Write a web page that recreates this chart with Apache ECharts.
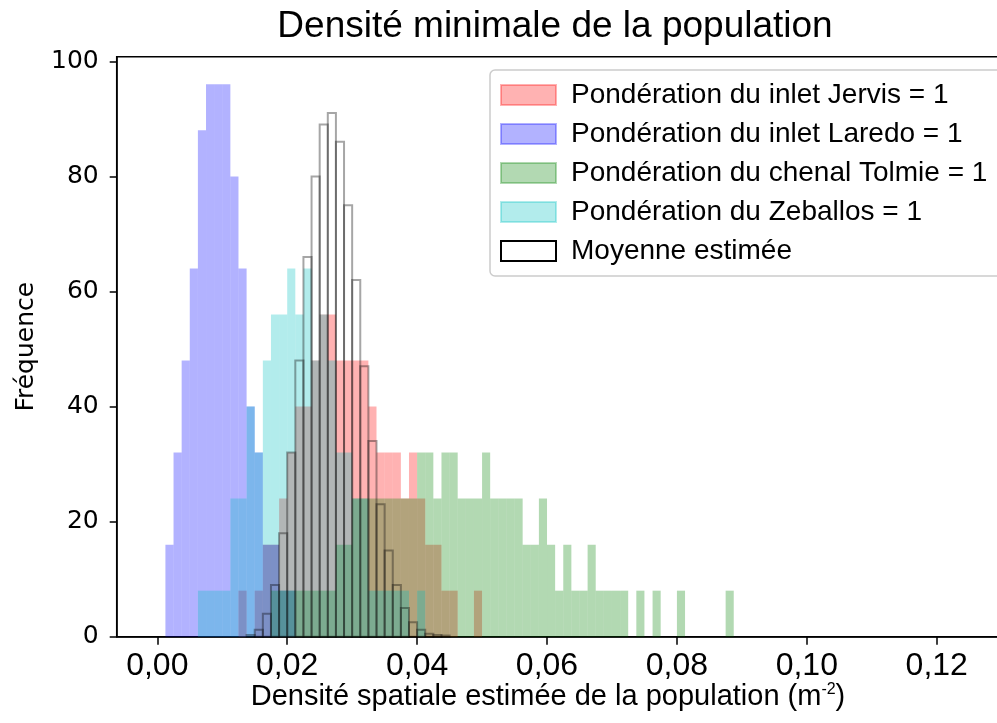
<!DOCTYPE html>
<html>
<head>
<meta charset="utf-8">
<script src="https://cdn.jsdelivr.net/npm/echarts@6/dist/echarts.min.js"></script>
<style>
  html, body { margin: 0; padding: 0; background: #fff; }
  #chart { width: 997px; height: 723px; }
</style>
</head>
<body>
<div id="chart"></div>
<script>
// Histogram bins shared by every series: edges every 0.00125 starting at 0
const binWidth = 0.00125;

// Counts per bin (index = bin number)
const jervis = [0,0,0,0,0,0,0,0,0,0, 8,0,8,16,16,24,32,40,40,48, 56,56,48,48,48,48,40,32,32,32, 24,32,24,16,16,8,8,0,0,8];
const laredo = [0,16,32,48,64,88,96,96,96,80, 64,40,32,16,16,8,8];
const tolmie = [0,0,0,0,0,0,0,0,0,0, 0,0,0,0,8,8,8,8,8,8, 8,8,16,16,24,24,24,24,24,24,
                24,24,32,32,24,32,32,24,24,24, 32,24,24,24,24,16,16,24,16,8, 16,8,8,16,8,8,8,8,0,8,
                0,8,0,0,8,0,0,0,0,0, 8];
const zeballos = [0,0,0,0,0,8,8,8,8,24, 24,40,32,48,56,56,64,56,64,48, 56,48,32,32,24,24,8,8,8,8, 8,0,8];
const moyenne = [0,0,0,0,0,0,0,0,0,0, 0,0.3,1.2,4,9,18,32,48,66,80, 89,91,86,75,62,47,34,23,15,9, 5,2.5,1.2,0.5,0.3,0.2];

const xTicks = [0, 0.02, 0.04, 0.06, 0.08, 0.10, 0.12];
const yTicks = [0, 20, 40, 60, 80, 100];

const seriesNames = [
  'Pondération du inlet Jervis = 1',
  'Pondération du inlet Laredo = 1',
  'Pondération du chenal Tolmie = 1',
  'Pondération du Zeballos = 1',
  'Moyenne estimée'
];

const SANS = '"Liberation Sans", sans-serif';
const DEJAVU = '"DejaVu Sans", sans-serif';

function histSeries(name, counts, fill, outline) {
  const data = [];
  counts.forEach((c, i) => {
    if (c > 0) data.push([i * binWidth, (i + 1) * binWidth, c]);
  });
  return {
    type: 'custom',
    name: name,
    data: data,
    silent: true,
    animation: false,
    encode: { x: [0, 1], y: 2 },
    renderItem: function (params, api) {
      const top = api.coord([api.value(0), api.value(2)]);
      const bottom = api.coord([api.value(1), 0]);
      return {
        type: 'rect',
        shape: { x: top[0], y: top[1], width: bottom[0] - top[0], height: bottom[1] - top[1] },
        style: outline
          ? { fill: 'none', stroke: 'rgba(0,0,0,0.35)', lineWidth: 2 }
          : { fill: fill }
      };
    }
  };
}

const colors = {
  red: 'rgba(255,0,0,0.3)',
  blue: 'rgba(0,0,255,0.3)',
  green: 'rgba(0,128,0,0.3)',
  cyan: 'rgba(0,191,191,0.3)'
};

const chart = echarts.init(document.getElementById('chart'), null, { renderer: 'canvas' });

chart.setOption({
  animation: false,
  backgroundColor: '#fff',
  grid: {
    left: 116.7, top: 56.7, right: -12.8, bottom: 86.3,
    show: true, borderColor: '#000', borderWidth: 1.5,
    containLabel: false, outerBoundsMode: 'none'
  },
  xAxis: {
    type: 'value',
    min: -0.00625, max: 0.13125,
    splitLine: { show: false },
    axisLine: { onZero: false, lineStyle: { color: '#000', width: 1.5 } },
    axisTick: { customValues: xTicks, length: 8, lineStyle: { color: '#000', width: 1.5 } },
    axisLabel: {
      customValues: xTicks,
      formatter: v => v.toFixed(2).replace('.', ','),
      fontFamily: SANS, fontSize: 32, color: '#000', margin: 13
    }
  },
  yAxis: {
    type: 'value',
    min: 0, max: 100.8,
    splitLine: { show: false },
    axisLine: { show: true, onZero: false, lineStyle: { color: '#000', width: 1.5 } },
    axisTick: { show: true, customValues: yTicks, length: 7, lineStyle: { color: '#000', width: 1.5 } },
    axisLabel: {
      customValues: yTicks,
      fontFamily: DEJAVU, fontSize: 25, color: '#000', margin: 18
    },
    name: 'Fréquence',
    nameLocation: 'middle',
    nameGap: 78,
    nameRotate: 90,
    nameTextStyle: { fontFamily: DEJAVU, fontSize: 25, color: '#000' }
  },
  legend: {
    orient: 'vertical',
    left: 490, top: 70,
    padding: [11, 15, 11, 10],
    itemWidth: 55, itemHeight: 20, itemGap: 11,
    selectedMode: false,
    borderColor: '#cccccc', borderWidth: 1.5, borderRadius: 5,
    backgroundColor: 'rgba(255,255,255,0.8)',
    textStyle: { fontFamily: SANS, fontSize: 28, color: '#000', padding: [0, 0, 0, 10] },
    data: [
      { name: seriesNames[0], icon: 'rect', itemStyle: { color: colors.red, borderColor: colors.red, borderWidth: 2 } },
      { name: seriesNames[1], icon: 'rect', itemStyle: { color: colors.blue, borderColor: colors.blue, borderWidth: 2 } },
      { name: seriesNames[2], icon: 'rect', itemStyle: { color: colors.green, borderColor: colors.green, borderWidth: 2 } },
      { name: seriesNames[3], icon: 'rect', itemStyle: { color: colors.cyan, borderColor: colors.cyan, borderWidth: 2 } },
      { name: seriesNames[4], icon: 'rect', itemStyle: { color: '#fff', borderColor: '#000', borderWidth: 2 } }
    ]
  },
  graphic: [
    {
      type: 'text', x: 555, y: 27,
      style: {
        text: 'Densité minimale de la population',
        font: '37px ' + SANS, fill: '#000', align: 'center', verticalAlign: 'middle'
      }
    },
    {
      type: 'text', x: 548, y: 697,
      style: {
        text: 'Densité spatiale estimée de la population (m{sup|-2})',
        font: '29px ' + SANS, fill: '#000', align: 'center', verticalAlign: 'middle',
        rich: {
          sup: { fontSize: 16, fontFamily: SANS, fill: '#000', verticalAlign: 'top', padding: [0, 0, 14, 0] }
        }
      }
    }
  ],
  series: [
    histSeries(seriesNames[0], jervis, colors.red, false),
    histSeries(seriesNames[1], laredo, colors.blue, false),
    histSeries(seriesNames[2], tolmie, colors.green, false),
    histSeries(seriesNames[3], zeballos, colors.cyan, false),
    histSeries(seriesNames[4], moyenne, null, true)
  ]
});
</script>
</body>
</html>
